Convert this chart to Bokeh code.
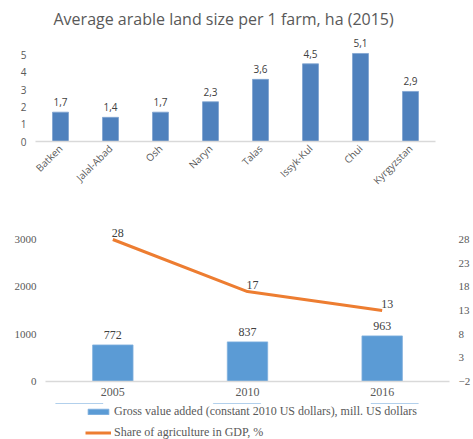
import math
from bokeh.plotting import figure
from bokeh.models import ColumnDataSource, Range1d, LinearAxis, FixedTicker, Legend, LegendItem
from bokeh.layouts import column
from bokeh.embed import file_html
from bokeh.resources import INLINE
from bokeh.core.properties import value

# ---- data: top chart ----
regions = ["Batken", "Jalal-Abad", "Osh", "Naryn", "Talas", "Issyk-Kul", "Chui", "Kyrgyzstan"]
land_size = [1.7, 1.4, 1.7, 2.3, 3.6, 4.5, 5.1, 2.9]
land_ticks = [0, 1, 2, 3, 4, 5]

# ---- data: bottom chart ----
years = ["2005", "2010", "2016"]
gva = [772, 837, 963]
agri_share = [28, 17, 13]
gva_ticks = [0, 1000, 2000, 3000]
share_ticks = [-2, 3, 8, 13, 18, 23, 28]
legend_labels = ["Gross value added (constant 2010 US dollars), mill. US dollars",
                 "Share of agriculture in GDP, %"]

SANS = "Open Sans"
SERIF = "Liberation Serif"
GRAY = "#595959"
DARK = "#404040"
BAR1 = "#4F81BD"
BAR2 = "#5B9BD5"
LINE = "#ED7D31"

# ================= top chart =================
src1 = ColumnDataSource(dict(x=regions, top=land_size,
                             lbl=[("%.1f" % v).replace(".", ",") for v in land_size]))
p1 = figure(x_range=regions, y_range=Range1d(0, 6.2), width=473, height=203,
            output_backend="svg", toolbar_location=None,
            min_border_left=35, min_border_right=38, min_border_top=31, min_border_bottom=62)
p1.frame_align = False
p1.title.text = "Average arable land size per 1 farm, ha (2015)"
p1.title.align = "left"
p1.title.offset = 18
p1.title.text_font = SANS
p1.title.text_font_size = "16px"
p1.title.text_font_style = "normal"
p1.title.text_color = GRAY
p1.title.standoff = 10

p1.vbar(x="x", top="top", width=0.32, source=src1, fill_color=BAR1, line_color="#7FA3D1", line_width=0.8)
p1.text(x="x", y="top", text="lbl", source=src1, text_align="center", text_baseline="bottom",
        y_offset=-6, text_font=value(SANS), text_font_size="10px", text_color=DARK)

p1.xgrid.grid_line_color = None
p1.ygrid.grid_line_color = None
p1.outline_line_color = None
p1.yaxis.ticker = FixedTicker(ticks=land_ticks)
p1.yaxis.axis_line_color = None
p1.yaxis.major_tick_line_color = None
p1.yaxis.minor_tick_line_color = None
p1.yaxis.major_tick_out = 0
p1.yaxis.major_label_standoff = 9
p1.yaxis.major_label_text_font = SANS
p1.yaxis.major_label_text_font_size = "10px"
p1.yaxis.major_label_text_color = GRAY
p1.xaxis.axis_line_color = "#D9D9D9"
p1.xaxis.axis_line_width = 1.5
p1.xaxis.major_tick_line_color = None
p1.xaxis.minor_tick_line_color = None
p1.xaxis.major_tick_out = 0
p1.xaxis.major_label_orientation = math.pi / 4
p1.xaxis.major_label_standoff = 5
p1.xaxis.major_label_text_font = SANS
p1.xaxis.major_label_text_font_size = "10px"
p1.xaxis.major_label_text_color = GRAY

# ================= bottom chart =================
src2 = ColumnDataSource(dict(x=years, gva=gva, share=agri_share,
                             gva_lbl=[str(v) for v in gva], share_lbl=[str(v) for v in agri_share]))
p2 = figure(x_range=years, y_range=Range1d(0, 3296), width=473, height=200,
            output_backend="svg", toolbar_location=None,
            min_border_left=45, min_border_right=23, min_border_top=22, min_border_bottom=22)
p2.frame_align = False
p2.extra_y_ranges = {"pct": Range1d(-2, 30.96)}

p2.vbar(x="x", top="gva", width=0.30, source=src2, fill_color=BAR2, line_color="#7FB0DE", line_width=0.8)
p2.text(x="x", y="gva", text="gva_lbl", source=src2, text_align="center", text_baseline="bottom",
        y_offset=-6, text_font=value(SERIF), text_font_size="12px", text_color=DARK)
p2.line(x="x", y="share", source=src2, y_range_name="pct", line_color=LINE, line_width=3)
p2.text(x="x", y="share", text="share_lbl", source=src2, y_range_name="pct", text_align="center",
        text_baseline="bottom", x_offset=5, y_offset=-3, text_font=value(SERIF), text_font_size="12px",
        text_color=DARK)

right = LinearAxis(y_range_name="pct", ticker=FixedTicker(ticks=share_ticks))
p2.add_layout(right, "right")

p2.xgrid.grid_line_color = None
p2.ygrid.grid_line_color = None
p2.outline_line_color = None
for ax in (p2.yaxis[0], right):
    ax.axis_line_color = None
    ax.major_tick_line_color = None
    ax.minor_tick_line_color = None
    ax.major_tick_out = 0
    ax.major_label_standoff = 9
    ax.major_label_text_font = SERIF
    ax.major_label_text_font_size = "11px"
    ax.major_label_text_color = GRAY
p2.yaxis[0].ticker = FixedTicker(ticks=gva_ticks)
p2.xaxis.axis_line_color = "#D9D9D9"
p2.xaxis.axis_line_width = 1.5
p2.xaxis.major_tick_line_color = None
p2.xaxis.minor_tick_line_color = None
p2.xaxis.major_tick_out = 0
p2.xaxis.major_label_standoff = 6
p2.xaxis.major_label_text_font = SERIF
p2.xaxis.major_label_text_font_size = "12px"
p2.xaxis.major_label_text_color = GRAY

# ================= legend strip (same series, view range set outside the data so only the legend shows) =================
p3 = figure(x_range=years, y_range=Range1d(-2, -1), width=473, height=36,
            output_backend="svg", toolbar_location=None,
            x_axis_location=None, y_axis_location=None,
            min_border_left=0, min_border_right=0, min_border_top=0, min_border_bottom=0)
p3.frame_align = False
p3.xgrid.grid_line_color = None
p3.ygrid.grid_line_color = None
p3.outline_line_color = None
lg_bar = p3.vbar(x="x", top="gva", bottom="gva", width=0.3, source=src2,
                 fill_color=BAR2, line_color="#7FB0DE", line_width=0.8)
lg_line = p3.line(x="x", y="share", source=src2, line_color=LINE, line_width=3)
legend = Legend(items=[
    LegendItem(label=legend_labels[0], renderers=[lg_bar]),
    LegendItem(label=legend_labels[1], renderers=[lg_line]),
], location=(85, -1), orientation="vertical", glyph_width=26, glyph_height=7,
    label_height=14, label_standoff=3, spacing=6, padding=0, margin=0,
    border_line_color=None, background_fill_alpha=0,
    label_text_font=SERIF, label_text_font_size="12px", label_text_color=GRAY)
p3.add_layout(legend, "center")

layout = column(p1, p2, p3, spacing=0)
open("out.html", "w").write(file_html(layout, INLINE))
